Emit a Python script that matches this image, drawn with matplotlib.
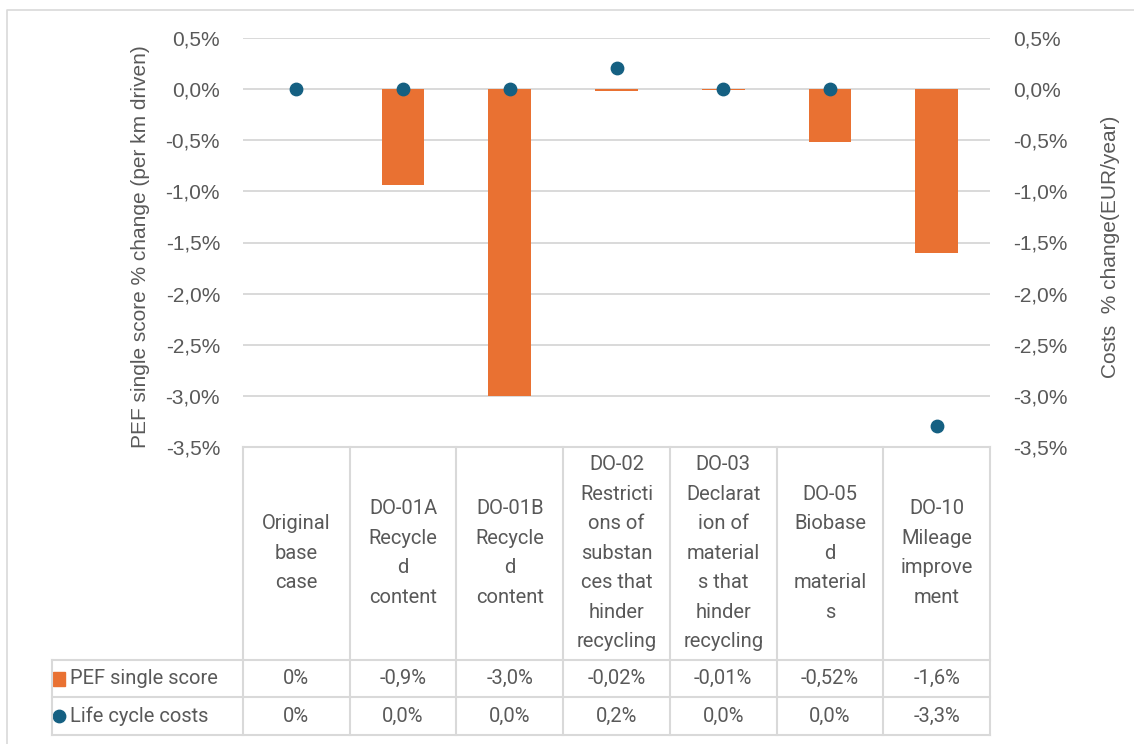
import numpy as np
import matplotlib
matplotlib.use("Agg")
import matplotlib.pyplot as plt
from matplotlib.lines import Line2D
from matplotlib.patches import Rectangle
from matplotlib.ticker import FuncFormatter

# data
categories = ["Original\nbase\ncase",
              "DO-01A\nRecycle\nd\ncontent",
              "DO-01B\nRecycle\nd\ncontent",
              "DO-02\nRestricti\nons of\nsubstan\nces that\nhinder\nrecycling",
              "DO-03\nDeclarat\nion of\nmaterial\ns that\nhinder\nrecycling",
              "DO-05\nBiobase\nd\nmaterial\ns",
              "DO-10\nMileage\nimprove\nment"]
pef_score = [0.0, -0.0094, -0.0300, -0.0002, -0.0001, -0.0052, -0.0160]
life_cycle_costs = [0.0, 0.0, 0.0, 0.0021, 0.0, 0.0, -0.0329]
pef_labels = ["0%", "-0,9%", "-3,0%", "-0,02%", "-0,01%", "-0,52%", "-1,6%"]
lcc_labels = ["0%", "0,0%", "0,0%", "0,2%", "0,0%", "0,0%", "-3,3%"]
series_names = ["PEF single score", "Life cycle costs"]

ORANGE = "#E97132"
BLUE = "#156082"
GREY = "#595959"
LINE = "#D9D9D9"

W, H = 1134, 744
fig = plt.figure(figsize=(W / 100, H / 100), dpi=100)

# outer chart border (partly cropped)
fig.add_artist(Line2D([7 / W, 7 / W, 1], [0, 1 - 10 / H, 1 - 10 / H],
                      transform=fig.transFigure, color=LINE, lw=1.2))

left, right, top, bottom = 243, 990, 38, 447
ax = fig.add_axes([left / W, 1 - bottom / H, (right - left) / W, (bottom - top) / H])
x = np.arange(len(categories))
ax.bar(x, pef_score, width=0.4, color=ORANGE, zorder=2)
ax.set_xlim(-0.5, len(categories) - 0.5)
ax.set_ylim(-0.035, 0.005)
ticks = np.linspace(-0.035, 0.005, 9)
ax.set_yticks(ticks)
fmt = FuncFormatter(lambda v, p: ("%.1f%%" % (round(v * 100, 1) + 0.0)).replace(".", ","))
ax.yaxis.set_major_formatter(fmt)
ax.set_xticks([])
ax.yaxis.grid(True, color=LINE, lw=1.4)
ax.set_axisbelow(True)
for s in ax.spines.values():
    s.set_visible(False)
ax.tick_params(axis="y", length=0, pad=16.5, labelsize=15, labelcolor=GREY)
for t in ax.get_yticklabels():
    t.set_fontfamily("Liberation Sans")

ax2 = ax.twinx()
ax2.scatter(x, life_cycle_costs, s=80, color=BLUE, zorder=3, clip_on=False)
ax2.set_ylim(-0.035, 0.005)
ax2.set_yticks(ticks)
ax2.yaxis.set_major_formatter(fmt)
for s in ax2.spines.values():
    s.set_visible(False)
ax2.tick_params(axis="y", length=0, pad=16.5, labelsize=15, labelcolor=GREY)
for t in ax2.get_yticklabels():
    t.set_fontfamily("Liberation Sans")

ax.set_ylabel("PEF single score % change (per km driven)", fontsize=15, color=GREY,
              family="Liberation Sans", va="center")
ax.yaxis.set_label_coords((140 - left) / (right - left), 0.49)
ax2.set_ylabel("Costs  % change(EUR/year)", fontsize=15, color=GREY,
               family="Liberation Sans", va="center", rotation=90)
ax2.yaxis.set_label_coords((1110 - left) / (right - left), 0.49)

# data table below the plot
unit = (right - left) / len(categories)
tl, tb = 52, 735
axt = fig.add_axes([tl / W, 1 - tb / H, (right - tl) / W, (tb - bottom) / H])
x0 = -0.5 - (left - tl) / unit
axt.set_xlim(x0, len(categories) - 0.5)
axt.set_ylim(tb, bottom)
axt.axis("off")
row1, row2 = 660, 697
for b in np.arange(-0.5, len(categories)):
    axt.plot([b, b], [bottom, tb], color=LINE, lw=1.5, clip_on=False)
axt.plot([x0, x0], [row1, tb], color=LINE, lw=1.5, clip_on=False)
for yy in (row1, row2, tb):
    axt.plot([x0, len(categories) - 0.5], [yy, yy], color=LINE, lw=1.5, clip_on=False)
axt.plot([-0.5, len(categories) - 0.5], [bottom, bottom], color=LINE, lw=1.5, clip_on=False)

tfont = dict(family="Roboto", fontsize=14.5, color=GREY)
for i, c in enumerate(categories):
    axt.text(i, 553, c, ha="center", va="center", linespacing=1.7, **tfont)
    axt.text(i, (row1 + row2) / 2, pef_labels[i], ha="center", va="center", **tfont)
    axt.text(i, (row2 + tb) / 2, lcc_labels[i], ha="center", va="center", **tfont)

kx = x0 + 7 / unit
axt.add_patch(Rectangle((kx - 6 / unit, (row1 + row2) / 2 - 7), 12 / unit, 14,
                        color=ORANGE, clip_on=False))
axt.scatter([kx], [(row2 + tb) / 2], s=80, color=BLUE, clip_on=False)
axt.text(x0 + 18 / unit, (row1 + row2) / 2, series_names[0], ha="left", va="center", **tfont)
axt.text(x0 + 18 / unit, (row2 + tb) / 2, series_names[1], ha="left", va="center", **tfont)

fig.savefig("out.png", dpi=100)
